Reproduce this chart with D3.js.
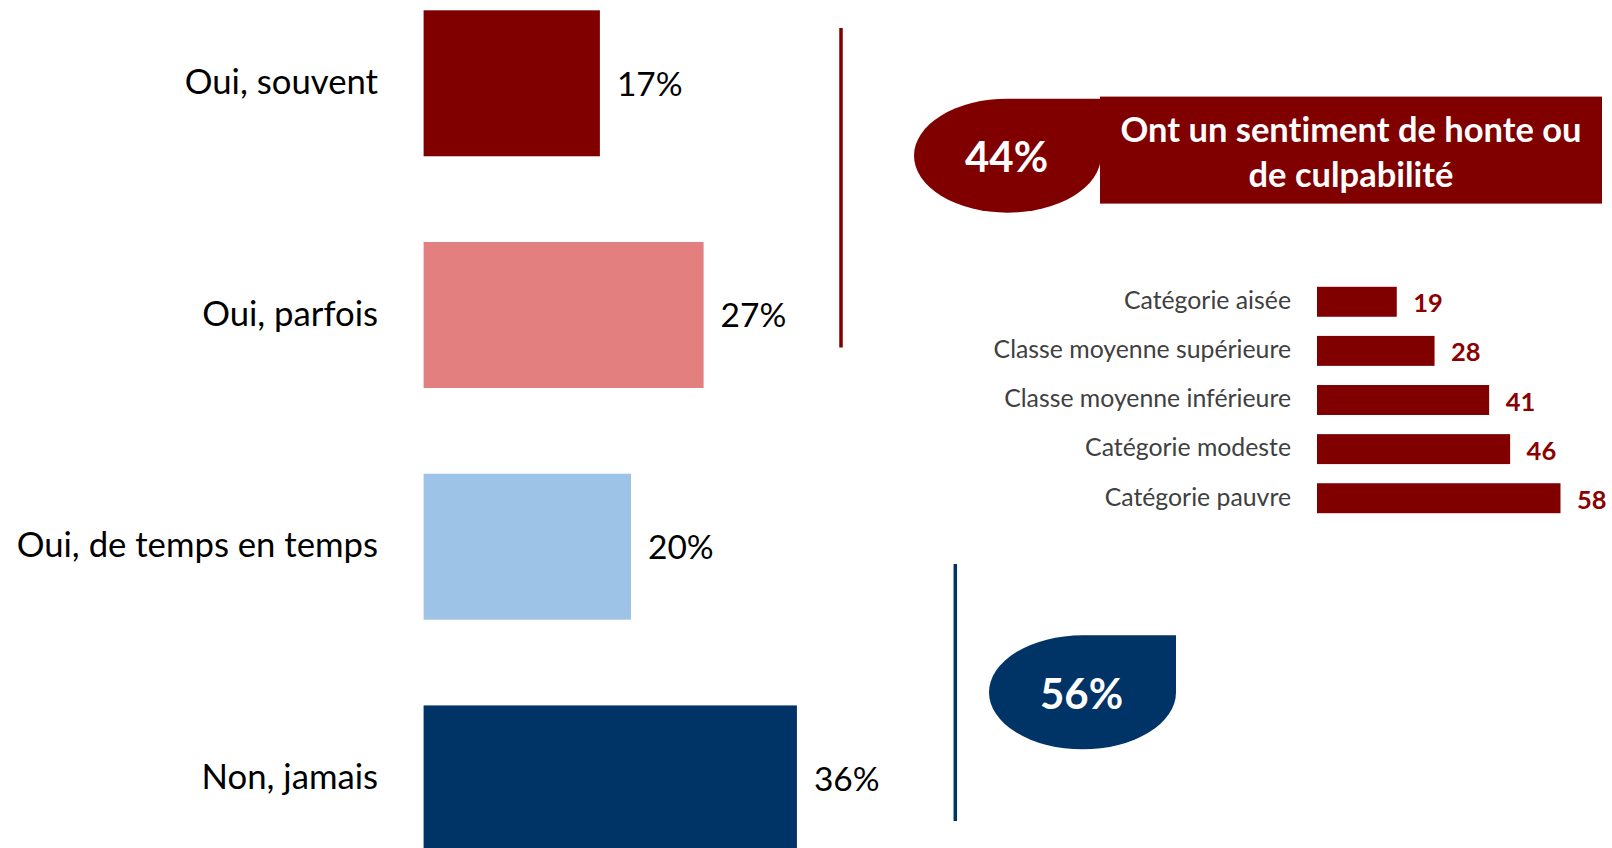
<!DOCTYPE html>
<html><head><meta charset="utf-8">
<script src="https://cdn.jsdelivr.net/npm/d3@7"></script>
<style>
html,body{margin:0;padding:0;background:#fff;overflow:hidden}
svg{display:block}
text{font-variant-ligatures:none;font-feature-settings:"liga" 0}
</style></head>
<body>
<script>
// ---- data ----
const categories = ["Oui, souvent", "Oui, parfois", "Oui, de temps en temps", "Non, jamais"];
const values = [17, 27, 20, 36];
const barColors = ["#800000", "#E47F7F", "#9DC3E6", "#003366"];

const summaryLabels = ["44%", "56%"];
const summaryTitle = ["Ont un sentiment de honte ou", "de culpabilité"];

const subCategories = ["Catégorie aisée", "Classe moyenne supérieure", "Classe moyenne inférieure", "Catégorie modeste", "Catégorie pauvre"];
const subValues = [19, 28, 41, 46, 58];

// ---- setup ----
const W = 1612, H = 848;
const FONT = "Lato, 'Open Sans', sans-serif";
const svg = d3.select("body").append("svg").attr("width", W).attr("height", H);

// main bars
const x = d3.scaleLinear().domain([0, 100]).range([423.6, 423.6 + 1037]);
const y = d3.scaleBand().domain(categories).range([10.3, 851.4]).paddingInner(0.37).paddingOuter(0);

const main = svg.append("g");
main.selectAll("rect").data(values).join("rect")
  .attr("x", x(0))
  .attr("y", (d, i) => y(categories[i]))
  .attr("width", d => x(d) - x(0))
  .attr("height", y.bandwidth())
  .attr("fill", (d, i) => barColors[i]);

main.selectAll("text.cat").data(categories).join("text")
  .attr("class", "cat")
  .attr("x", 378)
  .attr("y", d => y(d) + y.bandwidth() / 2 + 2)
  .attr("text-anchor", "end")
  .attr("dominant-baseline", "middle")
  .attr("font-family", FONT)
  .attr("font-size", 34.7)
  .attr("fill", "#000")
  .text(d => d);

main.selectAll("text.val").data(values).join("text")
  .attr("class", "val")
  .attr("x", d => x(d) + 17)
  .attr("y", (d, i) => y(categories[i]) + y.bandwidth() / 2 + 4)
  .attr("dominant-baseline", "middle")
  .attr("font-family", FONT)
  .attr("font-size", 33.5)
  .attr("fill", "#000")
  .text(d => d + "%");

// bracket lines
svg.append("line").attr("x1", 841).attr("x2", 841).attr("y1", 28).attr("y2", 347.5)
  .attr("stroke", "#800000").attr("stroke-width", 3.5);
svg.append("line").attr("x1", 955.3).attr("x2", 955.3).attr("y1", 564).attr("y2", 821)
  .attr("stroke", "#003366").attr("stroke-width", 3.5);

// teardrop shape (top-right corner square)
function drop(x0, y0, w, h) {
  const rx = w / 2, ry = h / 2;
  const p = d3.path();
  p.moveTo(x0 + rx, y0);
  p.lineTo(x0 + w, y0);
  p.lineTo(x0 + w, y0 + ry);
  return p.toString() +
    ` A ${rx} ${ry} 0 0 1 ${x0 + rx} ${y0 + h}` +
    ` A ${rx} ${ry} 0 0 1 ${x0} ${y0 + ry}` +
    ` A ${rx} ${ry} 0 0 1 ${x0 + rx} ${y0} Z`;
}
const bubbles = [
  { x0: 914, y0: 98.7, color: "#800000" },
  { x0: 989, y0: 635.3, color: "#003366" }
];
const bw = 187, bh = 114;

// title box
svg.append("rect").attr("x", 1100).attr("y", 96.6).attr("width", 502).attr("height", 107)
  .attr("fill", "#800000");
svg.append("g").selectAll("text").data(summaryTitle).join("text")
  .attr("x", 1351)
  .attr("y", (d, i) => 133.5 + i * 45)
  .attr("text-anchor", "middle")
  .attr("dominant-baseline", "middle")
  .attr("font-family", FONT)
  .attr("font-weight", 700)
  .attr("font-size", 34.5)
  .attr("fill", "#fff")
  .text(d => d);

svg.append("g").selectAll("path").data(bubbles).join("path")
  .attr("d", b => drop(b.x0, b.y0, bw, bh))
  .attr("fill", b => b.color);
svg.append("g").selectAll("text").data(summaryLabels).join("text")
  .attr("x", (d, i) => bubbles[i].x0 + bw / 2 - 1)
  .attr("y", (d, i) => bubbles[i].y0 + bh / 2 + 5.5)
  .attr("text-anchor", "middle")
  .attr("dominant-baseline", "middle")
  .attr("font-family", FONT)
  .attr("font-weight", 700)
  .attr("font-size", 42)
  .attr("fill", "#fff")
  .text(d => d);

// sub bar chart
const sx = d3.scaleLinear().domain([0, 58]).range([1317, 1560.5]);
const sy = d3.scaleBand().domain(subCategories).range([286.8, 513.2]).paddingInner(0.39).paddingOuter(0);
const sub = svg.append("g");
sub.selectAll("rect").data(subValues).join("rect")
  .attr("x", sx(0))
  .attr("y", (d, i) => sy(subCategories[i]))
  .attr("width", d => sx(d) - sx(0))
  .attr("height", sy.bandwidth())
  .attr("fill", "#800000");
sub.selectAll("text.lab").data(subCategories).join("text")
  .attr("class", "lab")
  .attr("x", 1291)
  .attr("y", d => sy(d) + sy.bandwidth() / 2 + 1)
  .attr("text-anchor", "end")
  .attr("dominant-baseline", "middle")
  .attr("font-family", FONT)
  .attr("font-size", 24.8)
  .attr("fill", "#404040")
  .text(d => d);
sub.selectAll("text.v").data(subValues).join("text")
  .attr("class", "v")
  .attr("x", d => sx(d) + 16.5)
  .attr("y", (d, i) => sy(subCategories[i]) + sy.bandwidth() / 2 + 4)
  .attr("dominant-baseline", "middle")
  .attr("font-family", FONT)
  .attr("font-weight", 700)
  .attr("font-size", 25.5)
  .attr("fill", "#8B0000")
  .text(d => d);
</script>
</body></html>
